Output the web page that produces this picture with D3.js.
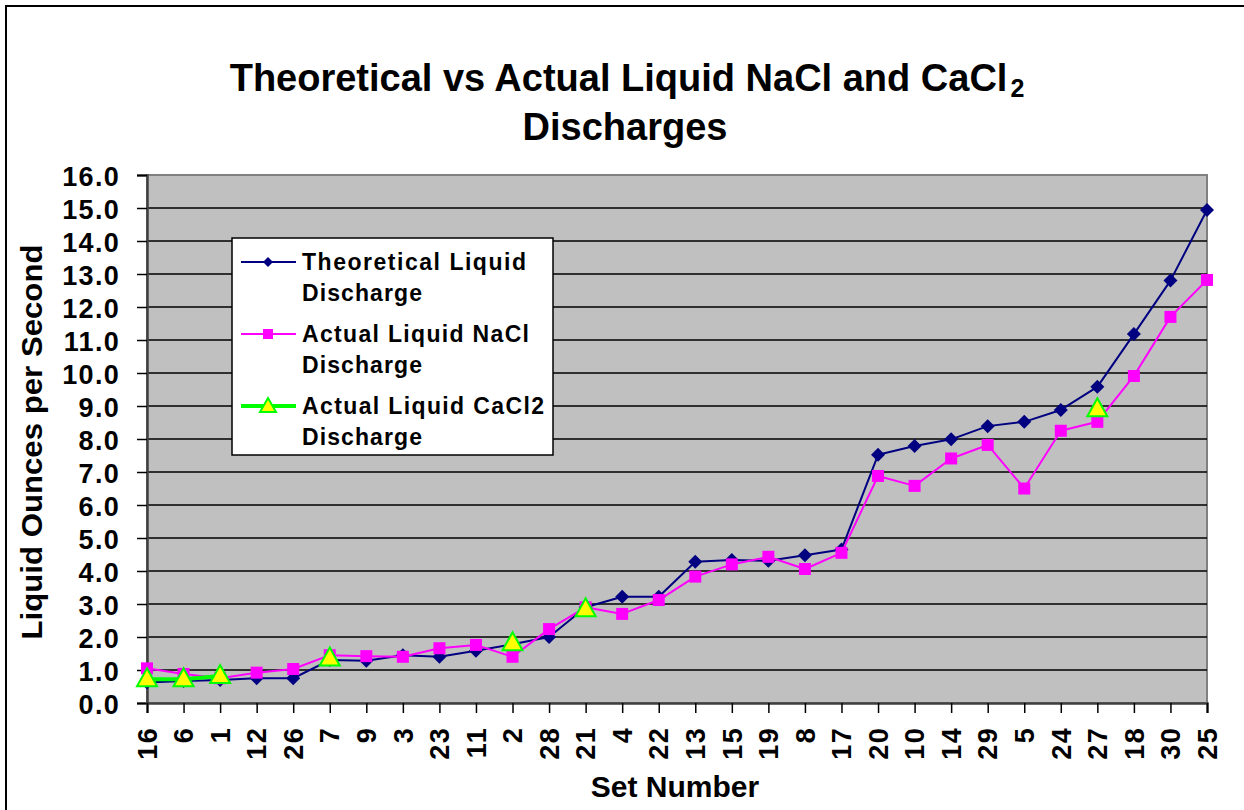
<!DOCTYPE html>
<html>
<head>
<meta charset="utf-8">
<script src="https://cdn.jsdelivr.net/npm/d3@7"></script>
<style>
  html, body { margin: 0; padding: 0; background: #fff; }
  svg { display: block; font-family: "Liberation Sans", Arial, sans-serif; font-weight: bold; }
</style>
</head>
<body>
<div id="chart"></div>
<script>
//// categories (x axis, in plotted order)
const sets = ["16", "6", "1", "12", "26", "7", "9", "3", "23", "11", "2", "28", "21", "4", "22",
  "13", "15", "19", "8", "17", "20", "10", "14", "29", "5", "24", "27", "18", "30", "25"];

//// series values
const theoretical = [0.62, 0.67, 0.70, 0.75, 0.75, 1.30, 1.28, 1.45, 1.40, 1.58, 1.78, 2.00, 2.90, 3.22, 3.22,
  4.28, 4.33, 4.31, 4.48, 4.65, 7.52, 7.79, 7.99, 8.39, 8.52, 8.88, 9.58, 11.18, 12.80, 14.94];
const actualNaCl = [1.05, 0.88, 0.75, 0.92, 1.03, 1.45, 1.42, 1.40, 1.66, 1.76, 1.40, 2.24, 2.90, 2.70, 3.12,
  3.83, 4.20, 4.43, 4.06, 4.55, 6.88, 6.58, 7.41, 7.82, 6.50, 8.25, 8.52, 9.91, 11.70, 12.82];
const actualCaCl2 = [0.72, 0.72, 0.82, null, null, 1.35, null, null, null, null, 1.81, null, 2.84, null, null,
  null, null, null, null, null, null, null, null, null, null, null, 8.90, null, null, null];

const yTicks = d3.range(0, 17, 1);
const legendLabels = [
  ["Theoretical Liquid", "Discharge"],
  ["Actual Liquid NaCl", "Discharge"],
  ["Actual Liquid CaCl2", "Discharge"]
];

const W = 1244, H = 810;
const plot = { left: 147, right: 1207, top: 175, bottom: 703 };

const svg = d3.select("#chart").append("svg")
  .attr("width", W)
  .attr("height", H);

//// chart frame (right & bottom edges fall outside the picture)
svg.append("rect")
  .attr("x", 6).attr("y", 6)
  .attr("width", W + 20).attr("height", H + 20)
  .attr("fill", "#fff")
  .attr("stroke", "#000")
  .attr("stroke-width", 2);

const x = d3.scalePoint()
  .domain(sets)
  .range([plot.left, plot.right])
  .padding(0);

const y = d3.scaleLinear()
  .domain([0, 16])
  .range([plot.bottom, plot.top]);

//// plot area
svg.append("rect")
  .attr("x", plot.left).attr("y", plot.top)
  .attr("width", plot.right - plot.left)
  .attr("height", plot.bottom - plot.top)
  .attr("fill", "#c0c0c0")
  .attr("stroke", "#808080")
  .attr("stroke-width", 2);

//// gridlines
svg.append("g")
  .selectAll("line")
  .data(yTicks.filter(d => d > 0 && d < 16))
  .join("line")
  .attr("x1", plot.left).attr("x2", plot.right)
  .attr("y1", d => y(d)).attr("y2", d => y(d))
  .attr("stroke", "#000")
  .attr("stroke-width", 1.5);

//// y axis
const yAxis = svg.append("g")
  .attr("transform", `translate(${plot.left},0)`)
  .call(d3.axisLeft(y).tickValues(yTicks).tickSize(10).tickPadding(17).tickFormat(d3.format(".1f")));
yAxis.select(".domain").attr("stroke", "#404040").attr("stroke-width", 2.5);
yAxis.selectAll(".tick line").attr("stroke", "#000").attr("stroke-width", 1.5);
yAxis.selectAll(".tick text")
  .attr("fill", "#000")
  .attr("font-size", 27)
  .attr("font-family", "'Liberation Sans', Arial, sans-serif")
  .attr("font-weight", "bold")
  .attr("letter-spacing", 1.3)
  .attr("dy", "0.38em");

//// x axis
const xAxis = svg.append("g")
  .attr("transform", `translate(0,${plot.bottom})`)
  .call(d3.axisBottom(x).tickSize(10).tickFormat(""));
xAxis.select(".domain").attr("stroke", "#404040").attr("stroke-width", 2.5);
xAxis.selectAll(".tick line").attr("stroke", "#000").attr("stroke-width", 1.5);

svg.append("g")
  .selectAll("text")
  .data(sets)
  .join("text")
  .attr("transform", d => `translate(${x(d)},727) rotate(-90)`)
  .attr("text-anchor", "end")
  .attr("dy", "0.36em")
  .attr("font-size", 27)
  .attr("letter-spacing", 1.3)
  .text(d => d);

//// axis titles
svg.append("text")
  .attr("x", 675).attr("y", 797)
  .attr("text-anchor", "middle")
  .attr("font-size", 30)
  .text("Set Number");

svg.append("text")
  .attr("transform", "translate(42,442) rotate(-90)")
  .attr("text-anchor", "middle")
  .attr("font-size", 30)
  .attr("textLength", 395)
  .attr("lengthAdjust", "spacingAndGlyphs")
  .text("Liquid Ounces per Second");

//// title
const title = svg.append("text")
  .attr("x", 627).attr("y", 91)
  .attr("text-anchor", "middle")
  .attr("font-size", 38);
title.append("tspan").text("Theoretical vs Actual Liquid NaCl and CaCl");
title.append("tspan").attr("font-size", 25).attr("dy", 6).attr("dx", 3).text("2");

svg.append("text")
  .attr("x", 625).attr("y", 140)
  .attr("text-anchor", "middle")
  .attr("font-size", 38)
  .text("Discharges");

//// markers
const diamond = s => `M0,${-s}L${s},0L0,${s}L${-s},0Z`;
const square = s => `M${-s},${-s}H${s}V${s}H${-s}Z`;
const triangle = () => "M0,-11L10,7L-10,7Z";

const series = [
  { values: theoretical, line: "#000080", width: 2, marker: diamond(7), fill: "#000080", stroke: "none" },
  { values: actualNaCl, line: "#ff00ff", width: 2, marker: square(6), fill: "#ff00ff", stroke: "none" },
  { values: actualCaCl2, line: "#00ff00", width: 4, marker: triangle(), fill: "#ffff00", stroke: "#00ff00" }
];

const line = d3.line()
  .defined(d => d.v != null)
  .x(d => x(d.k))
  .y(d => y(d.v));

series.forEach(s => {
  const pts = sets.map((k, i) => ({ k, v: s.values[i] }));
  const g = svg.append("g");
  g.append("path")
    .datum(pts)
    .attr("d", line)
    .attr("fill", "none")
    .attr("stroke", s.line)
    .attr("stroke-width", s.width)
    .attr("stroke-linejoin", "round");
  g.selectAll(".m")
    .data(pts.filter(d => d.v != null))
    .join("path")
    .attr("class", "m")
    .attr("transform", d => `translate(${x(d.k)},${y(d.v)})`)
    .attr("d", s.marker)
    .attr("fill", s.fill)
    .attr("stroke", s.stroke)
    .attr("stroke-width", 2);
});

//// legend
const legend = svg.append("g");
legend.append("rect")
  .attr("x", 232).attr("y", 238)
  .attr("width", 321).attr("height", 217)
  .attr("fill", "#fff")
  .attr("stroke", "#000")
  .attr("stroke-width", 1.5);

const legendY = [262, 334, 406];
const legendWidths = [[224, 120], [227, 120], [242, 120]];
series.forEach((s, i) => {
  const ly = legendY[i];
  legend.append("line")
    .attr("x1", 241).attr("x2", 296)
    .attr("y1", ly).attr("y2", ly)
    .attr("stroke", s.line)
    .attr("stroke-width", i === 2 ? 4 : 2);
  legend.append("path")
    .attr("transform", `translate(268,${ly})`)
    .attr("d", i === 0 ? diamond(5) : i === 1 ? square(5) : "M0,-8L8,6L-8,6Z")
    .attr("fill", s.fill)
    .attr("stroke", s.stroke)
    .attr("stroke-width", 2);
  legendLabels[i].forEach((t, j) => {
    legend.append("text")
      .attr("x", 302).attr("y", ly + 8 + j * 31)
      .attr("font-size", 23)
      .attr("textLength", legendWidths[i][j])
      .attr("lengthAdjust", "spacing")
      .text(t);
  });
});
</script>
</body>
</html>
